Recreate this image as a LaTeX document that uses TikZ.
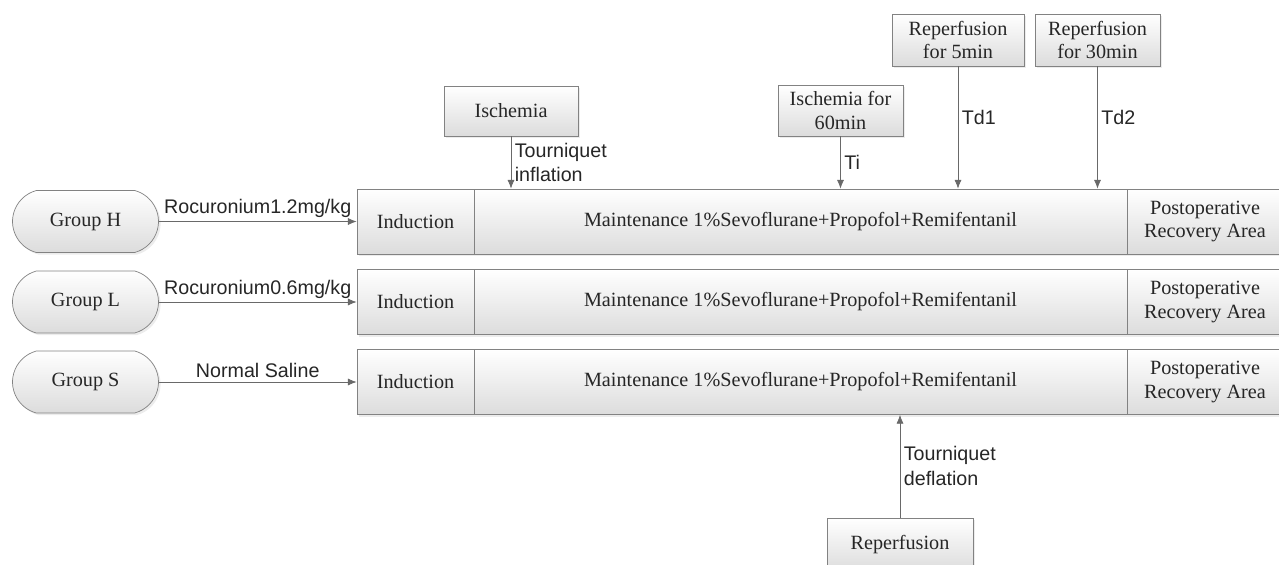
\documentclass[tikz,border=0pt]{standalone}
\usepackage{fontspec}
\setmainfont{Liberation Serif}
\setsansfont{Liberation Sans}
\usetikzlibrary{shapes.misc,arrows.meta,positioning,shadows}
\usepackage{xcolor}
\definecolor{boxline}{RGB}{130,130,130}
\definecolor{boxlow}{RGB}{220,220,220}
\definecolor{arrowcol}{RGB}{105,105,105}

\begin{document}
\begin{tikzpicture}[x=0.02cm, y=-0.02cm,
  every node/.style={font=\fontsize{11.5}{13.5}\selectfont, text=black!85},
  box/.style={draw=boxline, top color=white, bottom color=boxlow, align=center,
    inner sep=2pt, drop shadow={shadow xshift=1.2pt, shadow yshift=-1.2pt, opacity=.15}},
  grp/.style={box, rounded rectangle, rounded rectangle arc length=150,
    minimum width=3.06cm, minimum height=1.24cm},
  lbl/.style={font=\sffamily\fontsize{11.2}{14}\selectfont, align=left, inner sep=2pt},
  arr/.style={draw=arrowcol, -{Latex[length=5pt, width=4pt]}}]
  % Canvas 1279x565
  \useasboundingbox (0,0) rectangle (1279,565);
  % Three groups, each one row of phases
  \foreach \g/\y/\dose in {H/221.5/{Rocuronium1.2mg/kg}, L/302/{Rocuronium0.6mg/kg}, S/382/{Normal Saline}} {
    \node[grp] (grp\g) at (85.5,\y) {Group \g};
    \node[box, minimum width=2.34cm, minimum height=1.3cm] (ind\g) at (415.5,\y) {Induction};
    \node[box, minimum width=13.06cm, minimum height=1.3cm] (main\g) at (800.5,\y)
      {Maintenance 1\%Sevoflurane+Propofol+Remifentanil};
    \node[box, minimum width=3.12cm, minimum height=1.3cm] (post\g) at (1205,\y)
      {Postoperative\\Recovery Area};
    \draw[arr] (grp\g.east) -- (ind\g.west) node[lbl, midway, above] {\dose};
  }
  % Time points above row H
  \node[box, minimum width=2.68cm, minimum height=1.0cm] (isch) at (511,111) {Ischemia};
  \node[box, minimum width=2.5cm, minimum height=1.02cm] (isch60) at (840.5,110.5) {Ischemia for\\60min};
  \node[box, minimum width=2.64cm, minimum height=1.04cm] (rep5) at (958,40) {Reperfusion\\for 5min};
  \node[box, minimum width=2.5cm, minimum height=1.04cm] (rep30) at (1097.5,40) {Reperfusion\\for 30min};
  \draw[arr] (isch.south) -- (isch.south |- mainH.north) node[lbl, midway, right] {Tourniquet\\inflation};
  \draw[arr] (isch60.south) -- (isch60.south |- mainH.north) node[lbl, midway, right] {Ti};
  \draw[arr] (rep5.south) -- (rep5.south |- mainH.north) node[lbl, pos=.42, right] {Td1};
  \draw[arr] (rep30.south) -- (rep30.south |- mainH.north) node[lbl, pos=.42, right] {Td2};
  % Reperfusion below row S
  \node[box, minimum width=2.92cm, minimum height=1.08cm] (repB) at (900,545) {Reperfusion};
  \draw[arr] (repB.north) -- (repB.north |- mainS.south) node[lbl, midway, right] {Tourniquet\\deflation};
\end{tikzpicture}
\end{document}
